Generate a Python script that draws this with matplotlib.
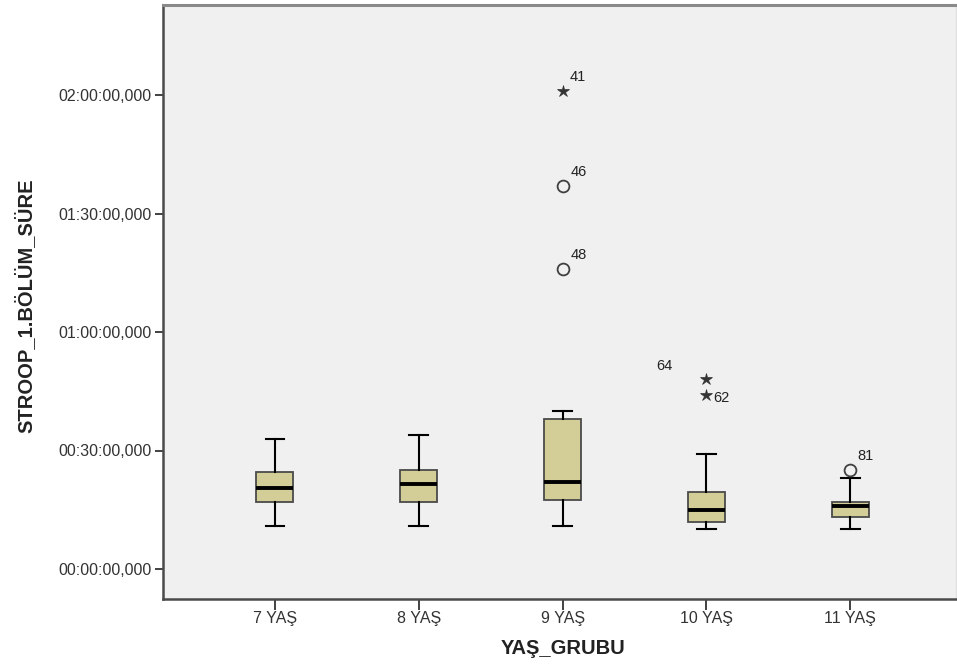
import matplotlib
matplotlib.use("Agg")
import matplotlib.pyplot as plt
from matplotlib.ticker import FuncFormatter

# values in minutes
GROUPS = ["7 YAŞ", "8 YAŞ", "9 YAŞ", "10 YAŞ", "11 YAŞ"]
WHISK_LO = [11.0, 11.0, 11.0, 10.0, 10.0]
Q1 = [17.0, 17.0, 17.5, 12.0, 13.1]
MEDIAN = [20.4, 21.5, 22.0, 14.9, 16.0]
Q3 = [24.5, 25.0, 38.0, 19.5, 17.0]
WHISK_HI = [32.9, 34.0, 40.0, 29.0, 23.0]

# outliers: (group index, value, case id, kind)  kind: "o" mild, "*" extreme
OUT_GROUP = [2, 2, 2, 3, 3, 4]
OUT_VALUE = [121.0, 97.0, 75.9, 48.0, 44.0, 25.1]
OUT_CASE = ["41", "46", "48", "64", "62", "81"]
OUT_KIND = ["*", "o", "o", "*", "*", "o"]
# label offsets in pixels (dx, dy)
OUT_LABEL_OFFSET = [(15, 14), (16, 14), (16, 14), (-42, 13), (15, -3), (15, 14)]

BOX_FILL = "#d3ce98"
BG = "#f0f0f0"
FONT = "Liberation Sans"


def fmt_time(v, pos):
    total = int(round(v * 60))
    h, rem = divmod(total, 3600)
    m, s = divmod(rem, 60)
    return f"{h:02d}:{m:02d}:{s:02d},000"


fig = plt.figure(figsize=(9.57, 6.67), dpi=100)
ax = fig.add_axes([162.7 / 957, 1 - 599 / 667, (956 - 162.7) / 957, (599 - 5) / 667])
ax.set_facecolor(BG)

stats = []
for i, name in enumerate(GROUPS):
    stats.append({
        "label": name,
        "whislo": WHISK_LO[i],
        "q1": Q1[i],
        "med": MEDIAN[i],
        "q3": Q3[i],
        "whishi": WHISK_HI[i],
        "fliers": [],
    })

positions = list(range(1, len(GROUPS) + 1))
ax.bxp(
    stats,
    positions=positions,
    widths=0.257,
    patch_artist=True,
    showfliers=False,
    boxprops=dict(facecolor=BOX_FILL, edgecolor="#4a4a4a", linewidth=1.3),
    medianprops=dict(color="black", linewidth=2.8),
    whiskerprops=dict(color="black", linewidth=1.5),
    capprops=dict(color="black", linewidth=1.5),
    capwidths=0.13,
)

for g, v, case, kind, off in zip(OUT_GROUP, OUT_VALUE, OUT_CASE, OUT_KIND, OUT_LABEL_OFFSET):
    x = positions[g]
    if kind == "o":
        ax.plot(x, v, marker="o", markersize=8.5, markerfacecolor="none",
                markeredgecolor="#404040", markeredgewidth=1.3, linestyle="none")
    else:
        ax.plot(x, v, marker="*", markersize=9, color="#333333",
                markeredgewidth=0.5, linestyle="none")
    ax.annotate(case, (x, v), xytext=off, textcoords="offset pixels",
                ha="center", va="center", fontsize=10.5, color="#222222",
                family=FONT)

ax.set_xlim(0.22, 5.735)
ax.set_ylim(-7.6, 142.8)
ax.set_yticks([0, 30, 60, 90, 120])
ax.yaxis.set_major_formatter(FuncFormatter(fmt_time))
ax.set_xticks(positions)
ax.set_xticklabels(GROUPS)

for lab in ax.get_yticklabels():
    lab.set_family(FONT)
    lab.set_fontsize(11.5)
    lab.set_color("#333333")
for lab in ax.get_xticklabels():
    lab.set_family(FONT)
    lab.set_fontsize(11.5)
    lab.set_color("#333333")

ax.tick_params(axis="y", length=6, width=1.3, color="#333333", pad=2)
ax.tick_params(axis="x", length=8, width=1.3, color="#333333", pad=0.5)

for side in ["left", "bottom"]:
    ax.spines[side].set_color("#4a4a4a")
    ax.spines[side].set_linewidth(1.8)
ax.spines["top"].set_color("#8a8a8a")
ax.spines["top"].set_linewidth(2.2)
ax.spines["right"].set_color("#e0e0e0")
ax.spines["right"].set_linewidth(1.0)

ax.set_ylabel("STROOP_1.BÖLÜM_SÜRE", family=FONT, fontsize=14.5,
              fontweight="bold", color="#222222")
ax.set_xlabel("YAŞ_GRUBU", family=FONT, fontsize=14.5,
              fontweight="bold", color="#222222")
ax.yaxis.label.set_va("center")
ax.xaxis.label.set_va("center")
ax.yaxis.set_label_coords((25 - 162.7) / 793.3, (599 - 306) / 594)
ax.xaxis.set_label_coords((563 - 162.7) / 793.3, (599 - 648) / 594)

fig.savefig("out.png", dpi=100, facecolor="white")
